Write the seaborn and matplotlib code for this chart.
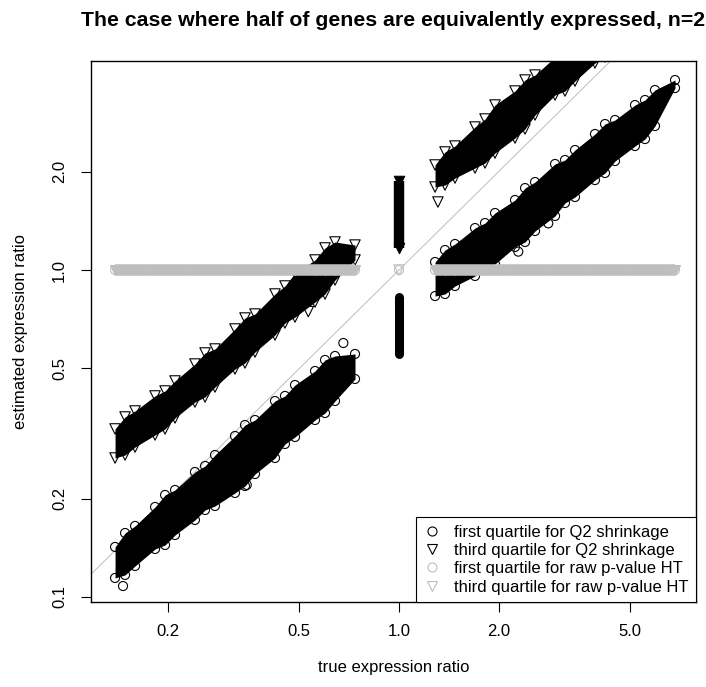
import numpy as np
import pandas as pd
import matplotlib
matplotlib.use("Agg")
import matplotlib.pyplot as plt
from matplotlib.lines import Line2D
import seaborn as sns

# ---------------------------------------------------------------------------
# Data
# ---------------------------------------------------------------------------
# True expression ratios of the differentially expressed genes
true_ratio_down = [0.1387, 0.1487, 0.1594, 0.1832, 0.1964, 0.2105, 0.2418,
                   0.2594, 0.2780, 0.3195, 0.3425, 0.3672, 0.4220, 0.4523,
                   0.4851, 0.5575, 0.5976, 0.6407, 0.7363]
true_ratio_up = [1.285, 1.377, 1.476, 1.697, 1.819, 1.950, 2.241,
                 2.403, 2.576, 2.961, 3.173, 3.402, 3.909, 4.192,
                 4.494, 5.164, 5.536, 5.934, 6.822]

# Q2 shrinkage estimates: lowest / highest quartile estimate per true ratio
q1_down_low = [0.1143, 0.1168, 0.1244, 0.1402, 0.1442, 0.1547, 0.1720,
               0.1845, 0.1898, 0.2080, 0.2185, 0.2377, 0.2661, 0.2937,
               0.3085, 0.3477, 0.3653, 0.3975, 0.4642]
q1_down_high = [0.1422, 0.1569, 0.1649, 0.1885, 0.2051, 0.2124, 0.2411,
                0.2516, 0.2718, 0.3107, 0.3357, 0.3477, 0.3975, 0.4119,
                0.4449, 0.4911, 0.5307, 0.5458, 0.5536]
q3_down_low = [0.2661, 0.2718, 0.2875, 0.3129, 0.3265, 0.3527, 0.3947,
               0.4090, 0.4387, 0.4981, 0.5195, 0.5613, 0.6327, 0.6884,
               0.7181, 0.7981, 0.8445, 0.9320, 1.073]
q3_down_high = [0.3265, 0.3552, 0.3705, 0.4119, 0.4266, 0.4577, 0.5158,
                0.5575, 0.5733, 0.6600, 0.7131, 0.7334, 0.8445, 0.8935,
                0.979, 1.073, 1.168, 1.218, 1.192]
q1_up_low = [0.8325, 0.8445, 0.8935, 0.9587, 1.021, 1.043, 1.176,
             1.218, 1.316, 1.463, 1.603, 1.672, 1.884, 1.980,
             2.154, 2.394, 2.515, 2.757, 3.602]
q1_up_high = [1.058, 1.151, 1.201, 1.344, 1.392, 1.494, 1.637,
              1.781, 1.858, 2.110, 2.170, 2.328, 2.606, 2.796,
              2.876, 3.196, 3.311, 3.552, 3.811]
q3_up_low = [1.794, 1.819, 1.911, 2.051, 2.125, 2.279, 2.533,
             2.700, 2.979, 3.429, 3.527, 3.784, 4.296, 4.481,
             4.877, 5.535, 5.896, 6.284, 7.133]
q3_up_high = [2.095, 2.296, 2.394, 2.737, 2.896, 3.196, 3.527,
              3.811, 3.947, 4.481, 4.674, 5.123, 5.814, 6.066,
              6.600, 7.490, 7.981, 8.505, 9.654]

# Isolated genes lying outside the main clouds
q1_extra_true = [0.1466, 0.3467, 0.679, 2.293, 2.825]
q1_extra_est = [0.108, 0.2201, 0.598, 1.138, 1.389]
q3_extra_true = [0.532, 1.311]
q3_extra_est = [0.746, 1.614]

# Equivalently expressed genes (true ratio 1): range of quartile estimates
eq_true = 1.0
eq_q1_range = [0.554, 0.827]
eq_q3_range = [1.168, 1.872]

# Raw p-value HT: every quartile estimate equals 1
ht_est_down = [1.0, 1.0, 1.0, 1.0, 1.0, 1.0, 1.0, 1.0, 1.0, 1.0,
               1.0, 1.0, 1.0, 1.0, 1.0, 1.0, 1.0, 1.0, 1.0]
ht_est_up = [1.0, 1.0, 1.0, 1.0, 1.0, 1.0, 1.0, 1.0, 1.0, 1.0,
             1.0, 1.0, 1.0, 1.0, 1.0, 1.0, 1.0, 1.0, 1.0]
ht_est_eq = 1.0

legend_labels = ["first quartile for Q2 shrinkage",
                 "third quartile for Q2 shrinkage",
                 "first quartile for raw p-value HT",
                 "third quartile for raw p-value HT"]
title = "The case where half of genes are equivalently expressed, n=2"
x_ticks = [0.2, 0.5, 1.0, 2.0, 5.0]
y_ticks = [0.1, 0.2, 0.5, 1.0, 2.0]

# ---------------------------------------------------------------------------
# Style
# ---------------------------------------------------------------------------
sns.set_style("white")
plt.rcParams["font.family"] = ["Liberation Sans", "DejaVu Sans"]
plt.rcParams["font.size"] = 12
for key in ("text.color", "axes.labelcolor", "xtick.color", "ytick.color",
            "axes.edgecolor"):
    plt.rcParams[key] = "black"

BLACK = "black"
GRAY = "#bebebe"
CIRC_MS = 6.5     # marker size (points) of open circles
TRI_MS = 7.5      # marker size (points) of open down-triangles
BAR_MS = 7.5      # height of the overlapping HT triangles
MEW = 0.8

fig = plt.figure(figsize=(7.06, 6.87), dpi=100)
ax = fig.add_axes([0.1285, 0.1237, 0.8573, 0.7882])
ax.set_xscale("log")
ax.set_yscale("log")
ax.set_xlim(0.1171, 7.893)
ax.set_ylim(0.0965, 4.372)

# identity line
ax.axline((1.0, 1.0), (2.0, 2.0), color=GRAY, lw=0.7, zorder=1)

# dense clouds of Q2-shrinkage quartile estimates
for xs, lo, hi in [(true_ratio_down, q1_down_low, q1_down_high),
                   (true_ratio_down, q3_down_low, q3_down_high),
                   (true_ratio_up, q1_up_low, q1_up_high),
                   (true_ratio_up, q3_up_low, q3_up_high)]:
    ax.fill_between(xs, lo, hi, color=BLACK, lw=0, zorder=2)

q1_pts = pd.DataFrame({
    "true": true_ratio_down * 2 + true_ratio_up * 2 + q1_extra_true,
    "est": q1_down_low + q1_down_high + q1_up_low + q1_up_high + q1_extra_est,
})
q3_pts = pd.DataFrame({
    "true": true_ratio_down * 2 + true_ratio_up * 2 + q3_extra_true,
    "est": q3_down_low + q3_down_high + q3_up_low + q3_up_high + q3_extra_est,
})
sns.scatterplot(data=q1_pts, x="true", y="est", ax=ax, marker="o",
                s=CIRC_MS ** 2, facecolor="none", edgecolor=BLACK,
                linewidth=MEW, zorder=3, legend=False)
sns.scatterplot(data=q3_pts, x="true", y="est", ax=ax, marker="v",
                s=TRI_MS ** 2, facecolor="none", edgecolor=BLACK,
                linewidth=MEW, zorder=3, legend=False)

# equivalently expressed genes stacked at a true ratio of 1
q1_stack = ax.vlines(eq_true, eq_q1_range[0], eq_q1_range[1], color=BLACK,
                     lw=CIRC_MS, zorder=3)
q1_stack.set_capstyle("round")
ax.vlines(eq_true, eq_q3_range[0], eq_q3_range[1], color=BLACK,
          lw=TRI_MS, zorder=3)
ax.scatter([eq_true, eq_true], eq_q3_range, marker="v", s=TRI_MS ** 2,
           facecolor=BLACK, edgecolor=BLACK, linewidth=MEW, zorder=3)

# raw p-value HT estimates (all equal to 1): the overlapping triangles
# merge into a solid grey bar
for xs, ys in ((true_ratio_down, ht_est_down), (true_ratio_up, ht_est_up)):
    ax.plot([xs[0], xs[-1]], [ys[0], ys[-1]], color=GRAY, lw=BAR_MS + MEW,
            solid_capstyle="butt", zorder=4)
    ax.plot(xs, ys, ls="none", marker="v", ms=BAR_MS, mfc=GRAY, mec=GRAY,
            mew=MEW, zorder=4)
ht_pts = pd.DataFrame({"true": true_ratio_down + true_ratio_up,
                       "est": ht_est_down + ht_est_up})
sns.scatterplot(data=ht_pts, x="true", y="est", ax=ax, marker="o",
                s=CIRC_MS ** 2, facecolor="none", edgecolor=GRAY,
                linewidth=MEW, zorder=4, legend=False)
ax.scatter([eq_true], [ht_est_eq], marker="o", s=CIRC_MS ** 2,
           facecolor="none", edgecolor=GRAY, linewidth=MEW, zorder=4)
ax.scatter([eq_true], [ht_est_eq], marker="v", s=TRI_MS ** 2,
           facecolor="none", edgecolor=GRAY, linewidth=MEW, zorder=4)

# axes, ticks and labels
ax.minorticks_off()
ax.set_xticks(x_ticks)
ax.set_xticklabels([f"{v:.1f}" for v in x_ticks])
ax.set_yticks(y_ticks)
ax.set_yticklabels([f"{v:.1f}" for v in y_ticks], rotation=90, va="center")
ax.tick_params(axis="both", which="major", direction="out", length=7,
               width=0.8, labelsize=12, colors=BLACK,
               bottom=True, left=True)
ax.tick_params(axis="x", pad=9)
ax.tick_params(axis="y", pad=10)
for sp in ax.spines.values():
    sp.set_color(BLACK)
    sp.set_linewidth(1.0)

ax.set_xlabel("true expression ratio", fontsize=12)
ax.set_ylabel("estimated expression ratio", fontsize=12)
ax.xaxis.set_label_coords(0.5, -0.108)
ax.yaxis.set_label_coords(-0.104, 0.5)
ax.set_title(title, fontsize=15.3, fontweight="bold", pad=24.8, color=BLACK)

handles = [
    Line2D([], [], ls="none", marker="o", ms=CIRC_MS, mfc="none", mec=BLACK, mew=MEW),
    Line2D([], [], ls="none", marker="v", ms=TRI_MS, mfc="none", mec=BLACK, mew=MEW),
    Line2D([], [], ls="none", marker="o", ms=CIRC_MS, mfc="none", mec=GRAY, mew=MEW),
    Line2D([], [], ls="none", marker="v", ms=TRI_MS, mfc="none", mec=GRAY, mew=MEW),
]
leg = ax.legend(handles, legend_labels, loc="lower right", borderaxespad=0,
                fancybox=False, edgecolor=BLACK, framealpha=1, fontsize=12,
                handlelength=1.0, handletextpad=0.8, labelspacing=0.2,
                borderpad=0.45)
leg.get_frame().set_linewidth(0.8)
leg.set_zorder(6)

fig.savefig("out.png", dpi=100)
